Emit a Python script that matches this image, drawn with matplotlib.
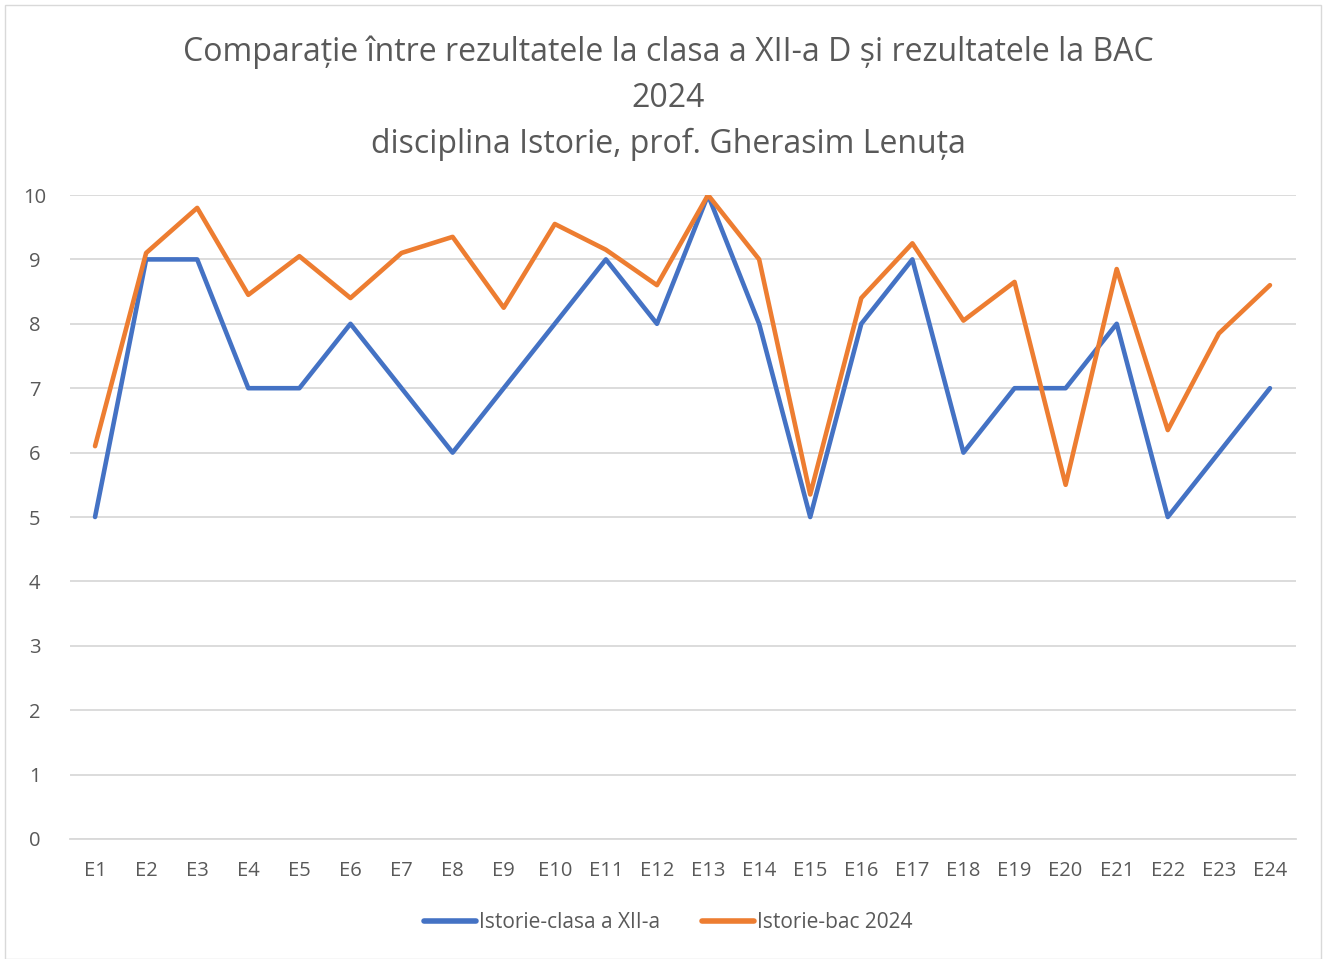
import matplotlib
matplotlib.use("Agg")
import matplotlib.pyplot as plt
from matplotlib.patches import Rectangle

categories = [f"E{i}" for i in range(1, 25)]
clasa = [5, 9, 9, 7, 7, 8, 7, 6, 7, 8, 9, 8, 10, 8, 5, 8, 9, 6, 7, 7, 8, 5, 6, 7]
bac = [6.1, 9.1, 9.8, 8.45, 9.05, 8.4, 9.1, 9.35, 8.25, 9.55, 9.15, 8.6, 10, 9.0,
       5.35, 8.4, 9.25, 8.05, 8.65, 5.5, 8.85, 6.35, 7.85, 8.6]
series_names = ["Istorie-clasa a XII-a", "Istorie-bac 2024"]
yticks = list(range(0, 11))
title = "Comparație între rezultatele la clasa a XII-a D și rezultatele la BAC\n2024\ndisciplina Istorie, prof. Gherasim Lenuța"

plt.rcParams['font.family'] = ['Open Sans', 'DejaVu Sans']
txt = '#595959'

W, H = 1323, 959
fig = plt.figure(figsize=(W/100, H/100), dpi=100)
fig.patches.append(Rectangle((5/W, 0), (W-5-2)/W, (H-5)/H, transform=fig.transFigure,
                             fill=False, edgecolor='#D9D9D9', linewidth=1))

ax = fig.add_axes([69.5/W, 1-839/H, (1295.5-69.5)/W, (839-195)/H])
x = list(range(len(categories)))
ax.plot(x, clasa, color='#4472C4', lw=3.3, solid_joinstyle='round', solid_capstyle='round',
        label=series_names[0], zorder=3)
ax.plot(x, bac, color='#ED7D31', lw=3.3, solid_joinstyle='round', solid_capstyle='round',
        label=series_names[1], zorder=3)
ax.set_xlim(-0.5, len(categories) - 0.5)
ax.set_ylim(0, 10)
ax.set_yticks(yticks)
ax.set_xticks(x)
ax.set_xticklabels(categories)
ax.grid(axis='y', color='#D9D9D9', lw=1.3)
ax.set_axisbelow(True)
for s in ['top', 'right', 'left']:
    ax.spines[s].set_visible(False)
ax.spines['bottom'].set_color('#D9D9D9')
ax.spines['bottom'].set_linewidth(1.3)
ax.tick_params(axis='both', length=0, labelsize=14.5, colors=txt)
ax.tick_params(axis='x', pad=16)
ax.tick_params(axis='y', pad=25)
for lab in ax.get_yticklabels():
    lab.set_horizontalalignment('center')

fig.text(0.505, 1-98/H, title, ha='center', va='center', fontsize=23, color=txt,
         linespacing=1.52)

leg = fig.legend(loc='center', bbox_to_anchor=(668/W, 1-923/H), ncol=2, frameon=False,
                 fontsize=15, handlelength=2.5, handletextpad=0.15, columnspacing=2.0)
for t in leg.get_texts():
    t.set_color(txt)
for l in leg.get_lines():
    l.set_linewidth(4)

fig.savefig('out.png', dpi=100)
